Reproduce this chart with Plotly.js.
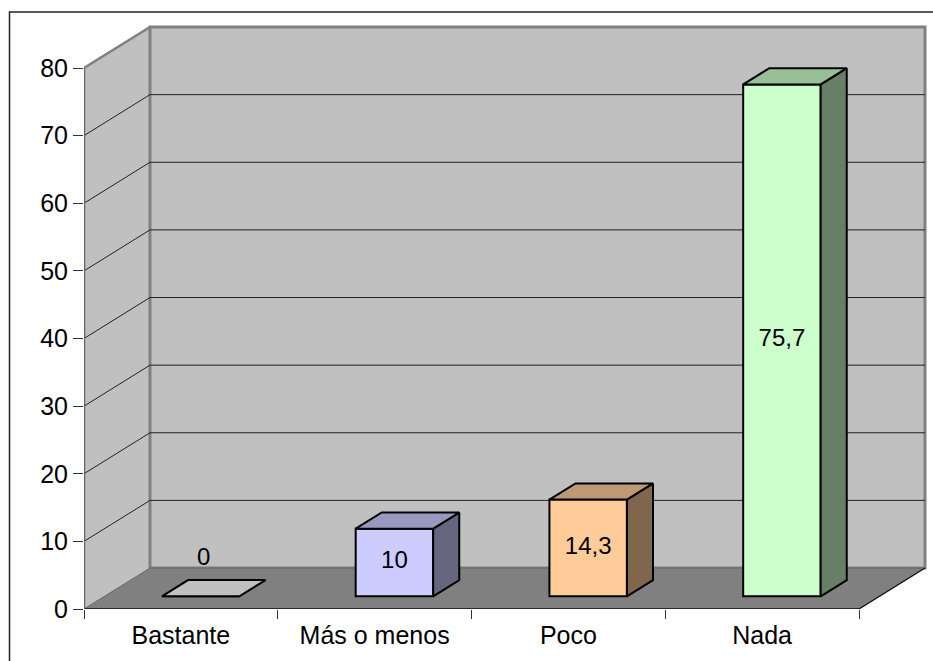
<!DOCTYPE html>
<html><head><meta charset="utf-8">
<script src="https://cdn.plot.ly/plotly-3.0.1.min.js"></script>
<style>html,body{margin:0;padding:0;background:#fff;overflow:hidden}#c{width:933px;height:661px}</style>
</head><body><div id="c"></div>
<script>
const categories = ['Bastante', 'Más o menos', 'Poco', 'Nada'];
const values = [0, 10, 14.3, 75.7];
const frontColors = ['#FFFFFF', '#CCCCFF', '#FFCC99', '#CCFFCC'];
const topColors = ['#C0C0C0', '#9999BF', '#BF9973', '#99BF99'];
const sideColors = ['#808080', '#66667F', '#7F664C', '#667F66'];
const yTicks = [0, 10, 20, 30, 40, 50, 60, 70, 80];

// oblique projection, expressed in axis units
const DX = 0.3406, DY = 6.06;      // full floor depth
const D0 = 0.30, D1 = 0.695;       // bar front / back depth along x
const BASE = 0.31 * DY;            // bar base lift
const TOPLIFT = 0.705 * DY;
const BAR = 0.4, X0 = -0.5, X1 = 3.5, YMAX = 80;
const P = (x, v, d) => [x + d * DX, v + d * DY];
const B = (x, v, back) => [x + (back ? D1 : D0) * DX, v + (back ? TOPLIFT : BASE)];
const path = pts => 'M' + pts.map(p => p[0] + ',' + p[1]).join('L') + 'Z';
const open = pts => 'M' + pts.map(p => p[0] + ',' + p[1]).join('L');
const WALL = '#C0C0C0', EDGE = '#808080', GRID = '#222222';

const shapes = [
  {type:'path', layer:'below', xref:'x', yref:'y', line:{width:0}, fillcolor:WALL,
   path:path([P(X0,0,0),P(X0,YMAX,0),P(X0,YMAX,1),P(X0,0,1)])},
  {type:'path', layer:'below', xref:'x', yref:'y', line:{color:EDGE,width:3}, fillcolor:WALL,
   path:path([P(X0,0,1),P(X0,YMAX,1),P(X1,YMAX,1),P(X1,0,1)])},
  {type:'path', layer:'below', xref:'x', yref:'y', line:{color:'#666666',width:1}, fillcolor:EDGE,
   path:path([P(X0,0,0),P(X0,0,1),P(X1,0,1),P(X1,0,0)])},
  {type:'path', layer:'below', xref:'x', yref:'y', line:{color:EDGE,width:2.5},
   path:open([P(X0,YMAX,0),P(X0,YMAX,1)])},
  {type:'path', layer:'below', xref:'x', yref:'y', line:{color:'#111111',width:1.2},
   path:open([P(X1,0,0),P(X1,0,1)])}
];
yTicks.slice(1, -1).forEach(v => shapes.push({type:'path', layer:'below', xref:'x', yref:'y',
  line:{color:GRID,width:1}, path:open([P(X0,v,0),P(X0,v,1),P(X1,v,1)])}));
// outer chart border, running off the page on the right and bottom
shapes.push({type:'rect', layer:'above', xref:'paper', yref:'paper',
  x0:(9.5-84)/846, x1:1.05, y0:-0.2, y1:(609-12)/584, line:{color:'#222222',width:1.5}});

const barX = categories.map((c,i) => B(i, 0, false)[0]);
const traces = [{
  type:'bar', x:barX, y:values, base:values.map(() => BASE), width:BAR,
  marker:{color:frontColors, line:{color:'#000',width:2}}, hoverinfo:'skip'
}];
categories.forEach((c,i) => {
  const v = values[i], L = i - BAR/2, R = i + BAR/2;
  const poly = (pts, col) => traces.push({type:'scatter', mode:'lines', fill:'toself', fillcolor:col,
    x:pts.map(p=>p[0]), y:pts.map(p=>p[1]), line:{color:'#000',width:2}, cliponaxis:false, hoverinfo:'skip'});
  if (v > 0) poly([B(R,0,false),B(R,v,false),B(R,v,true),B(R,0,true),B(R,0,false)], sideColors[i]);
  poly([B(L,v,false),B(R,v,false),B(R,v,true),B(L,v,true),B(L,v,false)], topColors[i]);
});
// front baseline of the floor and left edge of the side wall
traces.push({type:'scatter', mode:'lines', x:[X0,X1], y:[0,0], line:{color:'#111',width:1.5}, cliponaxis:false, hoverinfo:'skip'});
traces.push({type:'scatter', mode:'lines', x:[X0,X0], y:[0,YMAX], line:{color:'#666',width:2.5}, cliponaxis:false, hoverinfo:'skip'});
// value labels
traces.push({type:'scatter', mode:'text', cliponaxis:false, hoverinfo:'skip',
  x:barX.map((x,i)=> i===0 ? x+0.015 : x),
  y:values.map(v => v===0 ? BASE+5.5 : BASE+v/2),
  text:values.map(v => String(v).replace('.', ',')), textposition:'middle center',
  textfont:{family:'Liberation Sans', size:24, color:'#000'}});

const layout = {
  width:933, height:661, showlegend:false, paper_bgcolor:'#fff', plot_bgcolor:'rgba(0,0,0,0)',
  margin:{l:84, r:3, t:25, b:52, pad:0},
  font:{family:'Liberation Sans', size:25, color:'#000'},
  xaxis:{type:'linear', range:[-0.5, 3.8664], tickmode:'array', tickvals:[0,1,2,3], ticktext:categories,
    ticks:'outside', ticklen:4, tickcolor:'rgba(0,0,0,0)', showgrid:false, zeroline:false, showline:false,
    minor:{tickmode:'array', tickvals:[-0.5,0.5,1.5,2.5,3.5], ticks:'outside', ticklen:9, tickcolor:'#333', tickwidth:1, showgrid:false}},
  yaxis:{range:[0, 86.36], tickmode:'array', tickvals:yTicks, ticks:'outside', ticklen:10, tickwidth:1, tickcolor:'#333',
    showgrid:false, zeroline:false, showline:false},
  shapes:shapes
};
Plotly.newPlot('c', traces, layout, {displayModeBar:false, staticPlot:true});
</script></body></html>
